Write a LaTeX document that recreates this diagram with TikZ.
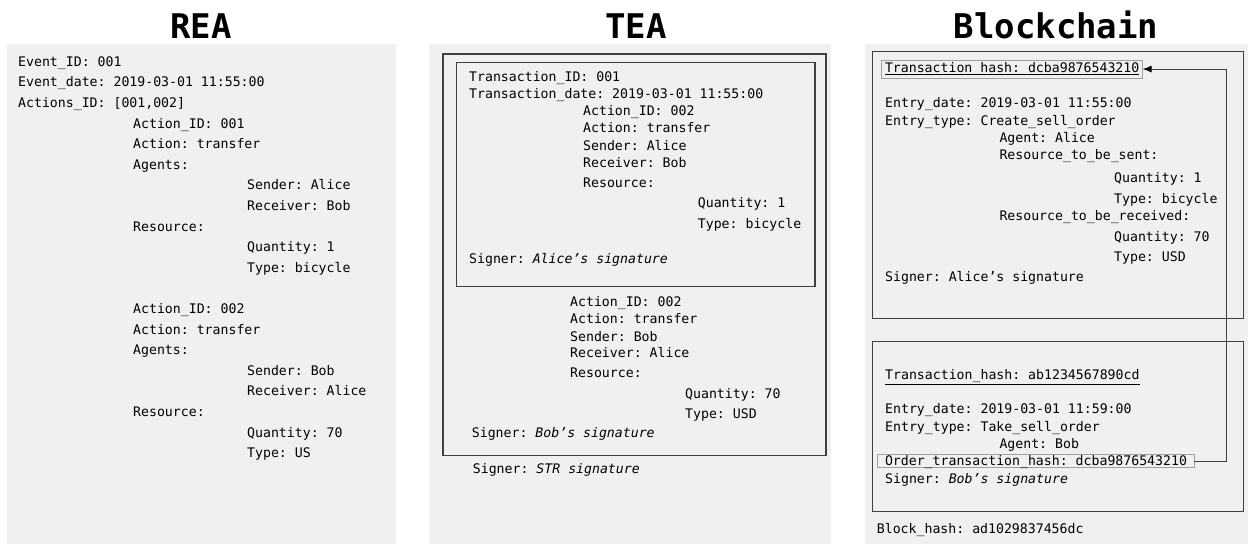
\documentclass[tikz,border=0pt]{standalone}
\usepackage{fontspec}
\setmonofont{DejaVu Sans Mono}
\usetikzlibrary{arrows.meta}

\definecolor{panelgray}{RGB}{240,240,240}
\definecolor{boxgray}{RGB}{64,64,64}
\definecolor{framegray}{RGB}{160,160,160}

\newcommand{\codefont}{\ttfamily\fontsize{13.2}{16}\selectfont}
\newcommand{\headfont}{\ttfamily\bfseries\fontsize{34}{40}\selectfont}

\tikzset{
  txt/.style={anchor=base west, inner sep=0pt, font=\codefont},
  head/.style={anchor=base, inner sep=0pt, font=\headfont},
  panel/.style={fill=panelgray},
  blockbox/.style={draw=boxgray, line width=1.1pt},
  hashbox/.style={txt, draw=framegray, line width=0.8pt, outer sep=0pt},
  link/.style={draw=boxgray, line width=0.9pt, -{Latex[length=9pt,width=7pt,black]}}
}

\begin{document}
\begin{tikzpicture}[x=1pt, y=-1pt]
        \fill[white] (0,0) rectangle (1248,544);
        \useasboundingbox (0,0) rectangle (1248,544);

        % panels
        \fill[panel] (7,44) rectangle (396,544);
        \fill[panel] (429,44) rectangle (831,544);
        \fill[panel] (865,44) rectangle (1248,544);

        % titles
        \node[head] (rea) at (201,38.5) {REA};
        \node[head] (tea) at (636,38.5) {TEA};
        \node[head] (chain) at (1056,38.5) {Blockchain};

        % REA
        \node[txt] (r1) at (18,66.2) {Event\_ID: 001};
        \node[txt] (r2) at (18,86.8) {Event\_date: 2019-03-01 11:55:00};
        \node[txt] (r3) at (18,107.4) {Actions\_ID: [001,002]};
        \node[txt] (r4) at (133,128.0) {Action\_ID: 001};
        \node[txt] (r5) at (133,148.6) {Action: transfer};
        \node[txt] (r6) at (133,169.2) {Agents:};
        \node[txt] (r7) at (247,189.8) {Sender: Alice};
        \node[txt] (r8) at (247,210.4) {Receiver: Bob};
        \node[txt] (r9) at (133,231.0) {Resource:};
        \node[txt] (r10) at (247,251.6) {Quantity: 1};
        \node[txt] (r11) at (247,272.2) {Type: bicycle};
        \node[txt] (r12) at (133,313.4) {Action\_ID: 002};
        \node[txt] (r13) at (133,334.0) {Action: transfer};
        \node[txt] (r14) at (133,354.6) {Agents:};
        \node[txt] (r15) at (247,375.2) {Sender: Bob};
        \node[txt] (r16) at (247,395.8) {Receiver: Alice};
        \node[txt] (r17) at (133,416.4) {Resource:};
        \node[txt] (r18) at (247,437.0) {Quantity: 70};
        \node[txt] (r19) at (247,457.6) {Type: US};

        % TEA
        \draw[blockbox] (443,54) rectangle (826,455.7);
        \draw[blockbox] (456.7,62.3) rectangle (815,286.7);
        \node[txt] (t1) at (469,81.8) {Transaction\_ID: 001};
        \node[txt] (t2) at (469,98.8) {Transaction\_date: 2019-03-01 11:55:00};
        \node[txt] (t3) at (583,115.5) {Action\_ID: 002};
        \node[txt] (t4) at (583,132.8) {Action: transfer};
        \node[txt] (t5) at (583,150.5) {Sender: Alice};
        \node[txt] (t6) at (583,167.8) {Receiver: Bob};
        \node[txt] (t7) at (583,187.2) {Resource:};
        \node[txt] (t8) at (697.7,207.2) {Quantity: 1};
        \node[txt] (t9) at (697.7,228.5) {Type: bicycle};
        \node[txt] (t10) at (469,263.8) {Signer: \textit{Alice’s signature}};
        \node[txt] (t11) at (570,306.8) {Action\_ID: 002};
        \node[txt] (t12) at (570,323.8) {Action: transfer};
        \node[txt] (t13) at (570,341.2) {Sender: Bob};
        \node[txt] (t14) at (570,357.8) {Receiver: Alice};
        \node[txt] (t15) at (570,377.8) {Resource:};
        \node[txt] (t16) at (685,398.5) {Quantity: 70};
        \node[txt] (t17) at (685,418.8) {Type: USD};
        \node[txt] (t18) at (471.7,437.8) {Signer: \textit{Bob’s signature}};
        \node[txt] (t19) at (472.7,473.8) {Signer: \textit{STR signature}};

        % Blockchain
        \draw[blockbox] (872.3,51.7) rectangle (1243.3,318.3);
        \draw[blockbox] (872.3,341.7) rectangle (1243.3,511.7);
        \node[hashbox, inner xsep=3.3pt, inner ysep=2.8pt, text height=10pt, text depth=2.5pt]
            (h1) at (881.7,72.8) {\underline{Transaction hash: dcba9876543210}\hspace{4.4pt}};
        \node[txt] (b1) at (885,107.8) {Entry\_date: 2019-03-01 11:55:00};
        \node[txt] (b2) at (885,125.2) {Entry\_type: Create\_sell\_order};
        \node[txt] (b3) at (999.3,142.2) {Agent: Alice};
        \node[txt] (b4) at (999.3,159.5) {Resource\_to\_be\_sent:};
        \node[txt] (b5) at (1114,182.8) {Quantity: 1};
        \node[txt] (b6) at (1114,203.5) {Type: bicycle};
        \node[txt] (b7) at (999.3,220.2) {Resource\_to\_be\_received:};
        \node[txt] (b8) at (1114,241.2) {Quantity: 70};
        \node[txt] (b9) at (1114,261.8) {Type: USD};
        \node[txt] (b10) at (885,281) {Signer: Alice’s signature};
        \node[txt] (h2) at (885,379.5) {\underline{Transaction\_hash: ab1234567890cd}};
        \node[txt] (c1) at (885,413.8) {Entry\_date: 2019-03-01 11:59:00};
        \node[txt] (c2) at (885,431.2) {Entry\_type: Take\_sell\_order};
        \node[txt] (c3) at (999.3,448.5) {Agent: Bob};
        \node[hashbox, inner xsep=7.3pt, inner ysep=1pt, text height=10.2pt, text depth=1.2pt]
            (ord) at (877.7,465.5) {Order\_transaction\_hash: dcba9876543210};
        \node[txt] (c4) at (885,483.5) {Signer: \textit{Bob’s signature}};
        \node[txt] (bh) at (876.7,533.8) {Block\_hash: ad1029837456dc};

        \coordinate (turn) at (1226,0);
        \draw[link] (ord.east) -- (ord.east -| turn) -- (h1.east -| turn) -- (h1.east);
\end{tikzpicture}
\end{document}
